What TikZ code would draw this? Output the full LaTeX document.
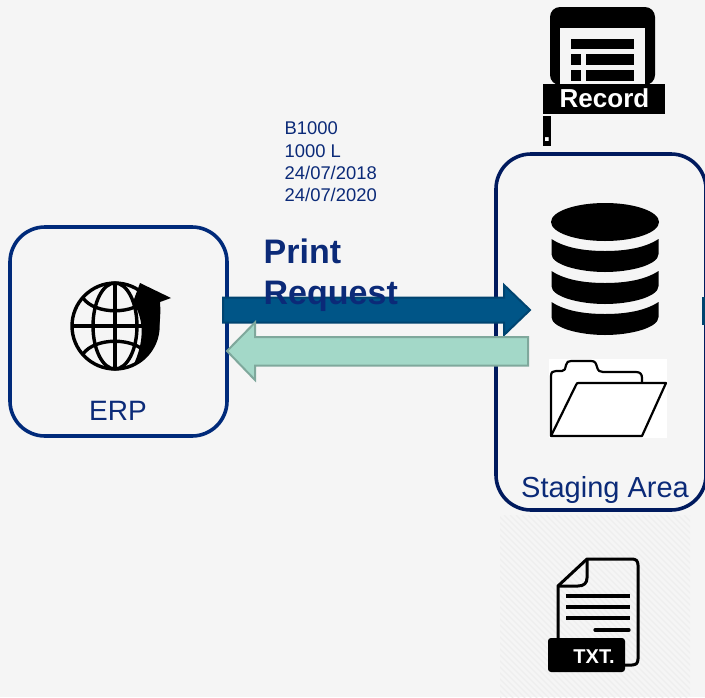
\documentclass[tikz,border=0pt]{standalone}
\usepackage{fontspec}
\setmainfont{Liberation Sans}
\usetikzlibrary{arrows.meta, calc}
\definecolor{pagegrey}{HTML}{F5F5F5}
\definecolor{hatchgrey}{HTML}{EEEEEE}
\definecolor{erpblue}{HTML}{002A7A}
\definecolor{stageblue}{HTML}{001A5E}
\definecolor{textblue}{HTML}{0B2A78}
\definecolor{reqblue}{HTML}{005587}
\definecolor{reqedge}{HTML}{004470}
\definecolor{repgreen}{HTML}{A3D8C8}
\definecolor{repedge}{HTML}{7FA89C}
\tikzset{
  areabox/.style={rounded corners=35, line width=3.6, fill=none},
  bluetext/.style={text=textblue, inner sep=0, anchor=base},
  blacktag/.style={fill=black, text=white, inner sep=0, anchor=base, font=\bfseries},
}
\begin{document}
\begin{tikzpicture}[x=1pt,y=-1pt]
\fill[pagegrey] (0,0) rectangle (705,697);
\useasboundingbox (0,0) rectangle (705,697);
\begin{scope}
\clip (500,515) rectangle (690,697);
\foreach \i in {300,306,...,720} \draw[hatchgrey, line width=1.2] (\i,515)--(\i+190,705);
\end{scope}
\node[draw=stageblue, areabox, minimum width=210, minimum height=356, inner sep=0] (staging) at (601,332) {};
\node[draw=erpblue, areabox, minimum width=217, minimum height=209, inner sep=0] (erp) at (118.5,331.5) {};
\node[bluetext, font=\fontsize{28}{28}\selectfont] (erplabel) at (118,420) {ERP};
\node[bluetext, font=\fontsize{29}{29}\selectfont] (staginglabel) at (605,497) {Staging Area};
% globe
\draw[line width=3.4] (115,326) circle (43);
\draw[line width=3.4] (115,326) ellipse (22 and 43);
\draw[line width=3.4] (115,283)--(115,369);
\draw[line width=3.4] (72,326)--(158,326);
\draw[line width=3.4] (83,298) .. controls (95,315) and (135,315) .. (147,298);
\draw[line width=3.4] (83,354) .. controls (95,337) and (135,337) .. (147,354);
\fill (140,283)--(171,298)--(160,302) .. controls (162,330) and (155,352) .. (133,366) .. controls (143,345) and (146,322) .. (133,302)--cycle;
% print request arrow
\coordinate (reqfrom) at (223,310);
\coordinate (reqto) at (530,310);
\draw[draw=reqedge, fill=reqblue, line width=2] (reqfrom) ++(0,-12.5) -- ++(281,0) -- ++(0,-12.5) -- (reqto) -- ++(-26,25) -- ++(0,-12.5) -- ++(-281,0) -- cycle;
\fill[reqedge] (702,297) rectangle (705,325);
% reply arrow
\coordinate (repfrom) at (528,351);
\coordinate (repto) at (227,351);
\draw[draw=repedge, fill=repgreen, line width=2] (repfrom) ++(0,-14) -- ++(-273,0) -- ++(0,-14.5) -- (repto) -- ++(28,29) -- ++(0,-14.5) -- ++(273,0) -- cycle;
\node[bluetext, anchor=base west, font=\fontsize{34}{34}\selectfont\bfseries] (print) at (263.5,263) {Print};
\node[bluetext, anchor=base west, font=\fontsize{34}{34}\selectfont\bfseries] (request) at (263.5,304) {Request};
\foreach \y/\t [count=\n] in {134/B1000, 157/1000 L, 179/{24/07/2018}, 201/{24/07/2020}}
  \node[bluetext, anchor=base west, font=\fontsize{18.4}{18.4}\selectfont] (data\n) at (284.5,\y) {\t};
% record icon
\fill[rounded corners=10] (550,85)--(550,7)--(655,7)--(655,85)--cycle;
\fill[pagegrey] (560,28) rectangle (645,84);
\fill (571,39) rectangle (634,49);
\foreach \y in {54,70} {
  \fill (571,\y) rectangle (581,\y+11);
  \fill (586,\y) rectangle (634,\y+11);
}
\fill (543,84) rectangle (665,114);
\node[blacktag, font=\fontsize{26}{26}\selectfont\bfseries] (record) at (604.5,107) {Record};
\fill (543,116) rectangle (551,146);
\node[blacktag, font=\fontsize{26}{26}\selectfont\bfseries] (recorddot) at (547,141) {.};
% database
\fill (605,222) ellipse (54 and 19);
\foreach \y in {239,271,302}
  \fill (551.5,\y) .. controls (565,\y+9) and (585,\y+12) .. (605,\y+12) .. controls (625,\y+12) and (645,\y+9) .. (658.5,\y) -- (658.5,\y+15) .. controls (658.5,\y+26) and (630,\y+33) .. (605,\y+33) .. controls (580,\y+33) and (551.5,\y+26) .. (551.5,\y+15) -- cycle;
% folder
\fill[white] (549,359) rectangle (667,438);
\draw[line width=2.2, line join=round] (551,436)--(551,376) .. controls (551,372) and (553,371) .. (556,371)--(562,371) .. controls (565,371) and (565,369) .. (566,365) .. controls (567,362) and (568,361) .. (571,361)--(591,361) .. controls (595,361) and (596,363) .. (597,367) .. controls (598,371) and (600,372) .. (603,372)--(636,372) .. controls (640,372) and (642,374) .. (642,378)--(642,383);
\draw[line width=2.2, line join=round] (551,436)--(576,385) .. controls (577,383) and (577,383) .. (579,383)--(666,383)--(642,436)--cycle;
% txt icon
\draw[line width=3, line join=round] (558,638)--(558,586)--(587,559)--(632,559) .. controls (636,559) and (638,561) .. (638,565)--(638,659) .. controls (638,663) and (636,665) .. (632,665)--(625,665);
\draw[line width=3, line join=round] (558,586)--(578,586) .. controls (584,586) and (587,583) .. (587,578)--(587,559);
\foreach \y in {596,607,618} \draw[line width=3.2] (566,\y)--(630,\y);
\draw[line width=3.2, line cap=round] (595,630)--(629,630);
\fill[rounded corners=3] (548,638) rectangle (625,672);
\node[blacktag, font=\fontsize{20}{20}\selectfont\bfseries] (txt) at (594,663) {TXT.};
\end{tikzpicture}
\end{document}
